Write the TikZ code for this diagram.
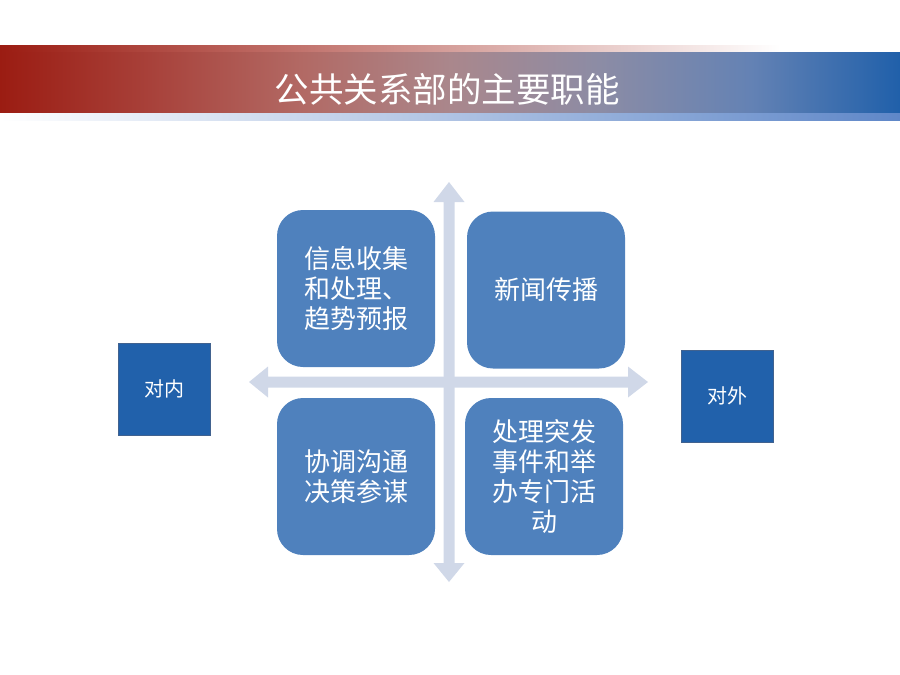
\documentclass[tikz,border=0pt]{standalone}
\usepackage{fontspec}
\setmainfont{Noto Sans CJK SC}
\definecolor{boxblue}{HTML}{4F81BD}
\definecolor{sideblue}{HTML}{2161AB}
\definecolor{sideedge}{HTML}{41628F}
\definecolor{arrowc}{HTML}{D0D8E8}
\definecolor{hred}{RGB}{155,28,18}
\definecolor{lblue}{RGB}{95,135,200}
\pgfdeclarehorizontalshading{hdr}{100bp}{
  rgb(0bp)=(0.608,0.110,0.071);
  rgb(25bp)=(0.608,0.110,0.071);
  rgb(33.3bp)=(0.659,0.255,0.227);
  rgb(41.7bp)=(0.698,0.412,0.392);
  rgb(50bp)=(0.667,0.529,0.549);
  rgb(58.3bp)=(0.549,0.549,0.647);
  rgb(66.7bp)=(0.392,0.510,0.706);
  rgb(75bp)=(0.125,0.376,0.667);
  rgb(100bp)=(0.125,0.376,0.667)}
\tikzset{
  quad/.style={fill=boxblue, draw=none, rounded corners=26pt, minimum width=158pt, minimum height=157pt,
    text=white, align=center, font=\fontsize{26}{30}\selectfont, inner sep=0pt},
  side/.style={fill=sideblue, draw=sideedge, line width=0.8pt, minimum width=92pt, minimum height=92pt,
    text=white, font=\fontsize{20}{23}\selectfont, inner sep=0pt},
}
\begin{document}
\begin{tikzpicture}[x=1pt,y=-1pt]
\useasboundingbox (0,0) rectangle (900,675);
% header
\shade[left color=hred, right color=white] (0,45) rectangle (780,52.5);
\shade[left color=white, right color=lblue] (0,111.5) rectangle (900,120);
\shade[shading=hdr] (0,52) rectangle (900,112);
\node[text=white, font=\fontsize{34.5}{38}\selectfont, inner sep=0pt] (title) at (447,89) {公共关系部的主要职能};
% cross arrows
\fill[arrowc] (443.5,202) -- (433.5,202) -- (449,182) -- (464.5,202) -- (454.5,202)
  -- (454.5,563) -- (464.5,563) -- (449,582) -- (433.5,563) -- (443.5,563) -- cycle;
\fill[arrowc] (268,376.5) -- (268,366.5) -- (249,382) -- (268,397.5) -- (268,387.5)
  -- (628,387.5) -- (628,397.5) -- (648,382) -- (628,366.5) -- (628,376.5) -- cycle;
% quadrant boxes
\node[quad] (q1) at (356,288.5) {信息收集\\和处理、\\趋势预报};
\node[quad] (q2) at (546,290) {新闻传播};
\node[quad] (q3) at (356,476.5) {协调沟通\\决策参谋};
\node[quad] (q4) at (544,476.5) {处理突发\\事件和举\\办专门活\\动};
% side boxes
\node[side] (inner) at (164.5,389) {对内};
\node[side] (outer) at (727,396) {对外};
\end{tikzpicture}
\end{document}
